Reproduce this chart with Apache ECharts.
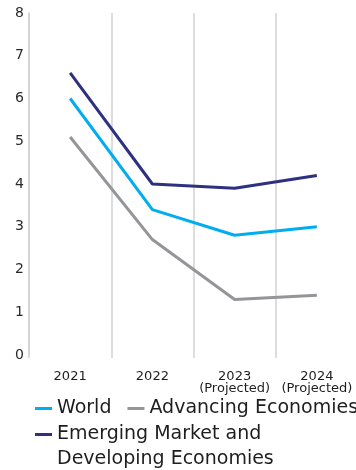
<!DOCTYPE html>
<html>
<head>
<meta charset="utf-8">
<script src="https://cdn.jsdelivr.net/npm/echarts@6/dist/echarts.min.js"></script>
<style>
  html, body { margin: 0; padding: 0; background: #fff; }
  #chart { width: 356px; height: 470px; }
</style>
</head>
<body>
<div id="chart"></div>
<script>
// Real GDP growth (%), by year
const years = ['2021', '2022', '2023\n(Projected)', '2024\n(Projected)'];
const world = [6.0, 3.4, 2.8, 3.0];
const advancing = [5.1, 2.7, 1.3, 1.4];
const emerging = [6.6, 4.0, 3.9, 4.2];
const yTicks = [0, 1, 2, 3, 4, 5, 6, 7, 8];

const seriesNames = ['World', 'Advancing Economies', 'Emerging Market and\nDeveloping Economies'];
const colors = ['#00aeef', '#939598', '#2e3180'];
const FONT = '"DejaVu Sans", sans-serif';
const GRID_COLOR = '#d2d2d2';

const legendCommon = {
  left: 35,
  orient: 'horizontal',
  padding: 0,
  itemWidth: 17,
  itemHeight: 3,
  itemGap: 16,
  icon: 'rect',
  selectedMode: false,
  textStyle: { color: '#1e1e1e', fontFamily: FONT, fontSize: 19, lineHeight: 25 }
};

const chart = echarts.init(document.getElementById('chart'), null, { renderer: 'canvas' });

chart.setOption({
  animation: false,
  color: colors,
  grid: { left: 29, top: 13, width: 329, height: 342, containLabel: false, outerBoundsMode: 'none' },
  xAxis: {
    type: 'category',
    data: years,
    boundaryGap: true,
    axisLine: { show: false },
    axisTick: { show: true, length: 3, lineStyle: { color: GRID_COLOR, width: 1.5 } },
    splitLine: { show: true, lineStyle: { color: GRID_COLOR, width: 1.5 } },
    axisLabel: {
      color: '#1e1e1e',
      fontFamily: FONT,
      fontSize: 13,
      lineHeight: 12,
      margin: 16,
      interval: 0
    }
  },
  yAxis: {
    type: 'value',
    min: yTicks[0],
    max: yTicks[yTicks.length - 1],
    interval: 1,
    axisLine: { show: true, lineStyle: { color: GRID_COLOR, width: 1.5 } },
    axisTick: { show: false },
    splitLine: { show: false },
    axisLabel: {
      color: '#2a2a2a',
      fontFamily: FONT,
      fontSize: 14,
      margin: 5
    }
  },
  legend: [
    Object.assign({}, legendCommon, {
      top: 396,
      width: 330,
      data: [seriesNames[0], seriesNames[1]]
    }),
    // second row: icon sits beside the first line of the wrapped name
    Object.assign({}, legendCommon, {
      top: 397,
      data: [seriesNames[2]],
      formatter: name => '\n' + name
    })
  ],
  series: [
    { name: seriesNames[0], type: 'line', data: world },
    { name: seriesNames[1], type: 'line', data: advancing },
    { name: seriesNames[2], type: 'line', data: emerging }
  ].map(s => Object.assign(s, {
    symbol: 'none',
    lineStyle: { width: 3 },
    emphasis: { disabled: true }
  }))
});
</script>
</body>
</html>
